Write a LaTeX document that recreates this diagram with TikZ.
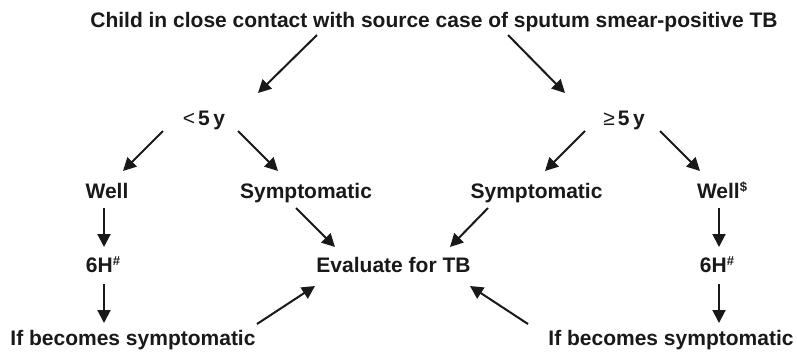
\documentclass[tikz,border=0pt]{standalone}
\usepackage{fontspec}
\setmainfont{Liberation Sans}
\usetikzlibrary{arrows.meta}
\newcommand{\supsym}[1]{\raisebox{7pt}{\fontsize{13}{13}\selectfont\bfseries #1}}
\newcommand{\relsym}[1]{{\mdseries #1}}
\begin{document}
\begin{tikzpicture}[x=1pt,y=-1pt,
  lbl/.style={anchor=base,inner sep=0pt,font=\fontsize{21}{25}\selectfont\bfseries,text=black!90},
  arr/.style={line width=2pt,draw=black!90,-{Triangle[length=13pt,width=13pt]}}]
\useasboundingbox (0,0) rectangle (797,351);
\fill[white] (0,0) rectangle (797,351);
% nodes
\node[lbl] (top) at (434,27) {Child in close contact with source case of sputum smear-positive TB};
\node[lbl] (lt5) at (204,125) {\relsym{<}\hspace{3pt}5\,y};
\node[lbl] (ge5) at (624,125) {\relsym{≥}\hspace{3pt}5\,y};
\node[lbl] (wellL) at (107,198) {Well};
\node[lbl] (sympL) at (306,198) {Symptomatic};
\node[lbl] (sympR) at (536.5,198) {Symptomatic};
\node[lbl] (wellR) at (722,198) {Well\supsym{\$}};
\node[lbl] (hL) at (103,272) {6H\supsym{\#}};
\node[lbl] (hR) at (717,272) {6H\supsym{\#}};
\node[lbl] (eval) at (393.5,272) {Evaluate for TB};
\node[lbl] (ifL) at (133,345) {If becomes symptomatic};
\node[lbl] (ifR) at (671,345) {If becomes symptomatic};
% connector end points
\coordinate (topA) at (317,35);   \coordinate (lt5N) at (258,93);
\coordinate (topB) at (508,35);   \coordinate (ge5N) at (565,93);
\coordinate (lt5A) at (163,131);  \coordinate (wellLN) at (123,171);
\coordinate (lt5B) at (238,131);  \coordinate (sympLN) at (278,171);
\coordinate (ge5A) at (585,131);  \coordinate (sympRN) at (545,171);
\coordinate (ge5B) at (660,131);  \coordinate (wellRN) at (700,171);
\coordinate (wellLS) at (104,208); \coordinate (hLN) at (104,247);
\coordinate (wellRS) at (719,208); \coordinate (hRN) at (719,247);
\coordinate (hLS) at (104,284);   \coordinate (ifLN) at (104,323);
\coordinate (hRS) at (719,284);   \coordinate (ifRN) at (719,323);
\coordinate (sympLS) at (296,208); \coordinate (evalNW) at (335,247);
\coordinate (sympRS) at (488,208); \coordinate (evalNE) at (450,247);
\coordinate (ifLE) at (257,324);  \coordinate (evalSW) at (315,286);
\coordinate (ifRW) at (528,324);  \coordinate (evalSE) at (470,286);
% connectors
\draw[arr] (topA) -- (lt5N);
\draw[arr] (topB) -- (ge5N);
\draw[arr] (lt5A) -- (wellLN);
\draw[arr] (lt5B) -- (sympLN);
\draw[arr] (ge5A) -- (sympRN);
\draw[arr] (ge5B) -- (wellRN);
\draw[arr] (wellLS) -- (hLN);
\draw[arr] (wellRS) -- (hRN);
\draw[arr] (hLS) -- (ifLN);
\draw[arr] (hRS) -- (ifRN);
\draw[arr] (sympLS) -- (evalNW);
\draw[arr] (sympRS) -- (evalNE);
\draw[arr] (ifLE) -- (evalSW);
\draw[arr] (ifRW) -- (evalSE);
\end{tikzpicture}
\end{document}
